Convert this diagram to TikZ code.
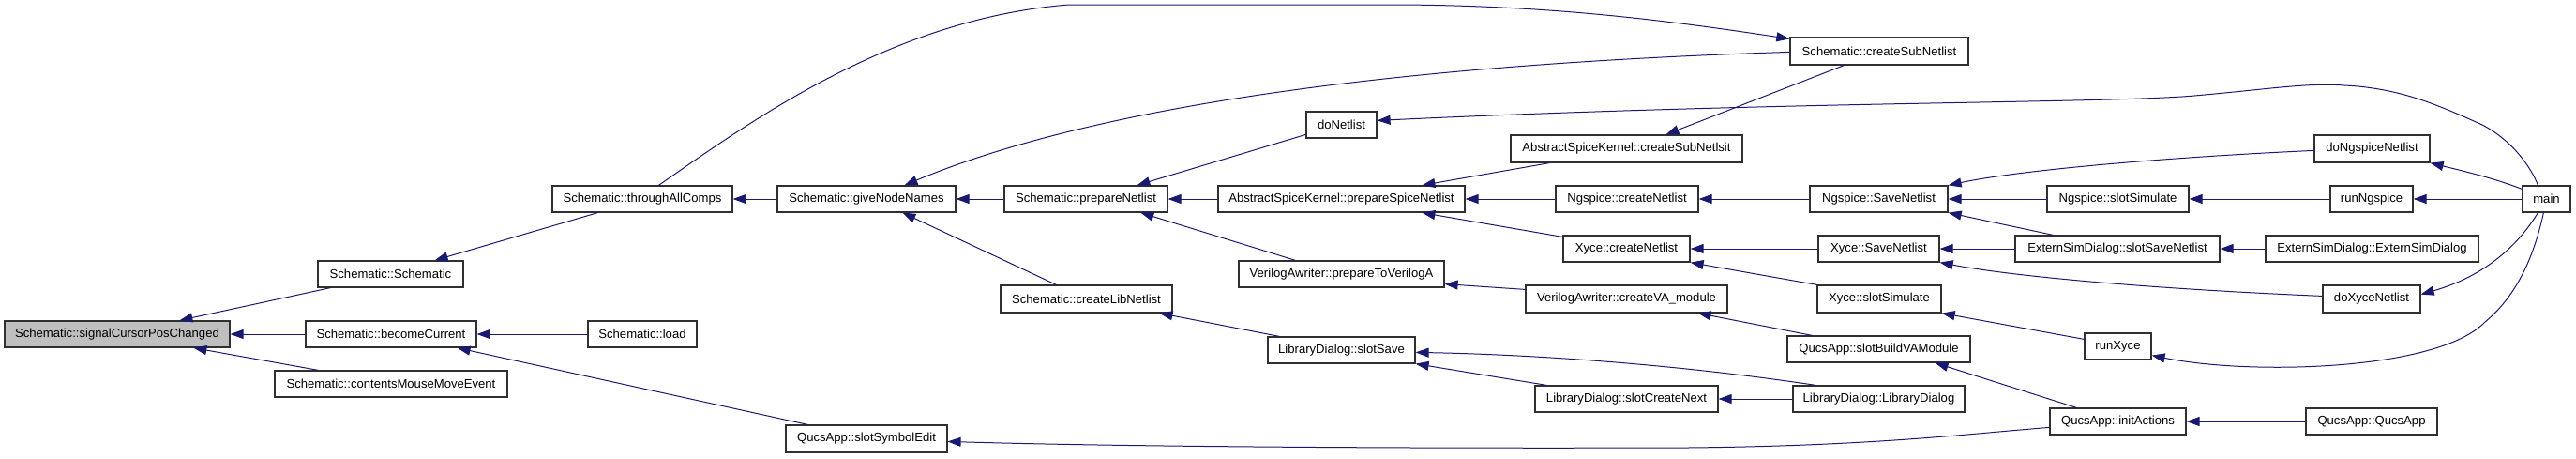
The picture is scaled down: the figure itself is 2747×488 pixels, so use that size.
\documentclass[tikz,border=0pt]{standalone}
\usepackage{fontspec}
\setmainfont{Liberation Sans}
\usetikzlibrary{arrows.meta}
\definecolor{edgecol}{HTML}{191970}
\definecolor{rootfill}{HTML}{BFBFBF}
\definecolor{boxline}{HTML}{303030}
\tikzset{
  fn/.style={draw=boxline, fill=white, line width=0.6pt, inner sep=0pt,
    minimum height=14pt, font=\fontsize{6.55}{8}\selectfont},
  rootfn/.style={fn, fill=rootfill},
  edge/.style={draw=edgecol, line width=0.5pt, {Triangle[length=7pt,width=5pt]}-},
  edger/.style={draw=edgecol, line width=0.5pt, -{Triangle[length=7pt,width=5pt]}}
}
\begin{document}
\begin{tikzpicture}[x=0.5pt,y=-0.5pt]
\useasboundingbox (0,0) rectangle (2747,488);
% nodes
\node[rootfn, minimum width=120pt] (sig) at (125,356) {Schematic::signalCursorPosChanged};
\node[fn, minimum width=77.5pt] (schem) at (416.5,292) {Schematic::Schematic};
\node[fn, minimum width=91pt] (become) at (417,356) {Schematic::becomeCurrent};
\node[fn, minimum width=124pt] (contents) at (417,409) {Schematic::contentsMouseMoveEvent};
\node[fn, minimum width=96pt] (through) at (685,212) {Schematic::throughAllComps};
\node[fn, minimum width=95pt] (give) at (924,212) {Schematic::giveNodeNames};
\node[fn, minimum width=58pt] (load) at (685,356) {Schematic::load};
\node[fn, minimum width=86pt, minimum height=14.5pt] (symedit) at (924,467.5) {QucsApp::slotSymbolEdit};
\node[fn, minimum width=87pt] (prep) at (1158,212) {Schematic::prepareNetlist};
\node[fn, minimum width=91.5pt, minimum height=14.5pt] (libnet) at (1158.5,318.5) {Schematic::createLibNetlist};
\node[fn, minimum width=37.5pt] (donet) at (1430.5,133) {doNetlist};
\node[fn, minimum width=131.5pt] (pss) at (1430.5,212) {AbstractSpiceKernel::prepareSpiceNetlist};
\node[fn, minimum width=109.5pt] (ptv) at (1430.5,292) {VerilogAwriter::prepareToVerilogA};
\node[fn, minimum width=78.5pt] (slotsave) at (1430.5,373) {LibraryDialog::slotSave};
\node[fn, minimum width=123.5pt, minimum height=14.5pt] (csn) at (1734.5,158.5) {AbstractSpiceKernel::createSubNetlsit};
\node[fn, minimum width=76pt] (ngcn) at (1735,212) {Ngspice::createNetlist};
\node[fn, minimum width=67.5pt] (xycn) at (1734.5,265) {Xyce::createNetlist};
\node[fn, minimum width=107.5pt, minimum height=14.5pt] (cva) at (1734.5,318.5) {VerilogAwriter::createVA\_module};
\node[fn, minimum width=95pt, minimum height=14.5pt] (scn) at (2004,54.5) {Schematic::createSubNetlist};
\node[fn, minimum width=97.5pt] (slotcreatenext) at (1734.5,425) {LibraryDialog::slotCreateNext};
\node[fn, minimum width=73.5pt] (ngsave) at (2003.5,212) {Ngspice::SaveNetlist};
\node[fn, minimum width=64.5pt] (xysave) at (2003.5,265) {Xyce::SaveNetlist};
\node[fn, minimum width=66pt, minimum height=14.5pt] (xysim) at (2004,318.5) {Xyce::slotSimulate};
\node[fn, minimum width=97.5pt] (vamod) at (2003.5,372) {QucsApp::slotBuildVAModule};
\node[fn, minimum width=91.5pt] (libdlg) at (2003.5,425) {LibraryDialog::LibraryDialog};
\node[fn, minimum width=75.5pt] (ngsim) at (2258.5,212) {Ngspice::slotSimulate};
\node[fn, minimum width=109pt] (esdsave) at (2258,265) {ExternSimDialog::slotSaveNetlist};
\node[fn, minimum width=35.5pt] (runxyce) at (2258.5,369) {runXyce};
\node[fn, minimum width=72.5pt] (init) at (2258.5,449) {QucsApp::initActions};
\node[fn, minimum width=61.5pt, minimum height=14.5pt] (dongnet) at (2529.5,158.5) {doNgspiceNetlist};
\node[fn, minimum width=44pt] (runng) at (2529,212) {runNgspice};
\node[fn, minimum width=113.5pt] (esd) at (2529.5,265) {ExternSimDialog::ExternSimDialog};
\node[fn, minimum width=52pt, minimum height=14.5pt] (doxy) at (2529,318.5) {doXyceNetlist};
\node[fn, minimum width=70pt] (qucsapp) at (2529,449) {QucsApp::QucsApp};
\node[fn, minimum width=25.5pt] (main) at (2715.5,212) {main};
% edges
\draw[edge] ([shift={(187,0)}]sig.north west) -- ([shift={(14,0)}]schem.south west);
\draw[edge] (sig.east) -- (become.west);
\draw[edge] ([shift={(202,0)}]sig.south west) -- ([shift={(47,0)}]contents.north west);
\draw[edge] ([shift={(-31,0)}]schem.north east) -- ([shift={(49,0)}]through.south west);
\draw[edge] (through.east) -- (give.west);
\draw[edge] ([shift={(0,2)}]scn.north west) .. controls (1780,22) and (1650,5) .. (1480,5) -- (1140,5) .. controls (950,20) and (800,130) .. ([shift={(114,0)}]through.north west);
\draw[edge] ([shift={(136,0)}]give.north west) .. controls (1150,120) and (1450,70) .. ([shift={(0,16)}]scn.north west);
\draw[edge] ([shift={(142,0)}]prep.north west) -- ([shift={(0,25)}]donet.north west);
\draw[edge] ([shift={(0,10)}]donet.north east) .. controls (1900,108) and (2250,110) .. (2340,102) .. controls (2420,95) and (2460,88) .. (2500,91) .. controls (2560,94) and (2600,112) .. (2647,133) .. controls (2680,150) and (2700,180) .. ([shift={(17,0)}]main.north west);
\draw[edge] (give.east) -- (prep.west);
\draw[edge] ([shift={(134,0)}]give.south west) -- ([shift={(60,0)}]libnet.north west);
\draw[edge] (prep.east) -- (pss.west);
\draw[edge] ([shift={(146,0)}]prep.south west) -- ([shift={(61,0)}]ptv.north west);
\draw[edge] ([shift={(170,0)}]libnet.south west) -- ([shift={(13,0)}]slotsave.north west);
\draw[edge] ([shift={(218,0)}]pss.north west) -- ([shift={(42,0)}]csn.south west);
\draw[edge] ([shift={(166,0)}]csn.north west) -- ([shift={(58,0)}]scn.south west);
\draw[edge] (pss.east) -- (ngcn.west);
\draw[edge] ([shift={(218,0)}]pss.south west) -- ([shift={(0,2)}]xycn.north west);
\draw[edge] ([shift={(0,-4)}]ptv.south east) -- ([shift={(0,5)}]cva.north west);
\draw[edge] (ngcn.east) -- (ngsave.west);
\draw[edge] (xycn.east) -- (xysave.west);
\draw[edge] (xycn.south east) -- (xysim.north west);
\draw[edge] ([shift={(-32,0)}]cva.south east) -- ([shift={(27,0)}]vamod.north west);
\draw[edge] ([shift={(0,17)}]slotsave.north east) .. controls (1650,378) and (1800,390) .. ([shift={(25,0)}]libdlg.north west);
\draw[edge] (slotsave.south east) -- ([shift={(13,0)}]slotcreatenext.north west);
\draw[edge] (slotcreatenext.east) -- (libdlg.west);
\draw[edge] ([shift={(0,18)}]symedit.north east) .. controls (1200,476) and (1500,478) .. (1800,477) .. controls (2000,475) and (2100,462) .. ([shift={(0,21)}]init.north west);
\draw[edge] ([shift={(-38,0)}]vamod.south east) -- ([shift={(29,0)}]init.north west);
\draw[edge] (init.east) -- (qucsapp.west);
\draw[edge] (ngsave.east) -- (ngsim.west);
\draw[edge] (ngsave.north east) .. controls (2150,182) and (2300,168) .. ([shift={(0,17)}]dongnet.north west);
\draw[edge] (ngsave.south east) -- ([shift={(41,0)}]esdsave.north west);
\draw[edge] (xysave.east) -- (esdsave.west);
\draw[edge] (xysave.south east) .. controls (2150,295) and (2300,308) .. ([shift={(0,12)}]doxy.north west);
\draw[edge] (xysim.south east) -- ([shift={(0,7)}]runxyce.north west);
\draw[edge] (ngsim.east) -- (runng.west);
\draw[edge] (esdsave.east) -- (esd.west);
\draw[edge] (dongnet.south east) .. controls (2630,183) and (2660,190) .. ([shift={(0,4)}]main.north west);
\draw[edge] (runng.east) -- (main.west);
\draw[edge] ([shift={(0,-20)}]doxy.south east) .. controls (2640,297) and (2680,270) .. ([shift={(17,0)}]main.south west);
\draw[edge] ([shift={(0,-5)}]runxyce.south east) .. controls (2400,400) and (2600,395) .. (2650,343) .. controls (2690,310) and (2705,260) .. ([shift={(23,0)}]main.south west);
\draw[edge] ([shift={(-21,0)}]become.south east) -- ([shift={(24,0)}]symedit.north west);
\draw[edge] (become.east) -- (load.west);
\end{tikzpicture}
\end{document}
